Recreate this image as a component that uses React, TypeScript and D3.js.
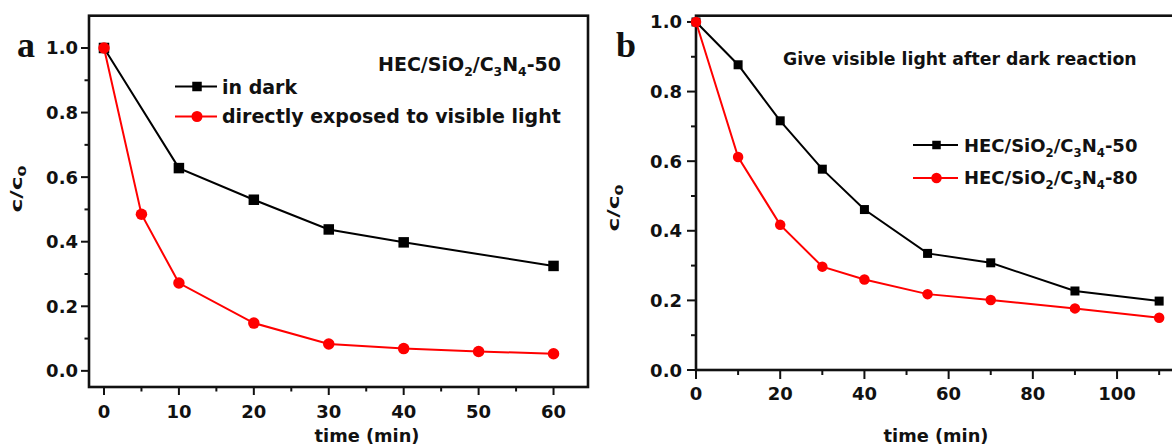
import React from 'react';
import * as d3 from 'd3';

// ---------- data ----------
const timeDarkA = [0, 10, 20, 30, 40, 60];
const inDarkA = [1.0, 0.628, 0.53, 0.438, 0.398, 0.325];
const timeLightA = [0, 5, 10, 20, 30, 40, 50, 60];
const lightA = [1.0, 0.485, 0.272, 0.148, 0.083, 0.069, 0.06, 0.053];

const timeB = [0, 10, 20, 30, 40, 55, 70, 90, 110];
const hec50B = [1.0, 0.877, 0.716, 0.577, 0.461, 0.335, 0.308, 0.227, 0.198];
const hec80B = [1.0, 0.612, 0.417, 0.297, 0.26, 0.218, 0.201, 0.177, 0.15];

const xTicksA = [0, 10, 20, 30, 40, 50, 60];
const xMinorA = [5, 15, 25, 35, 45, 55];
const xTicksB = [0, 20, 40, 60, 80, 100];
const xMinorB = [10, 30, 50, 70, 90, 110];
const yTicks = [0, 0.2, 0.4, 0.6, 0.8, 1.0];
const yMinor = [0.1, 0.3, 0.5, 0.7, 0.9];

const FONT = '"DejaVu Sans", "Liberation Sans", Arial, sans-serif';
const RED = '#ff0000';

type Pt = [number, number];

function zip(xs: number[], ys: number[]): Pt[] {
  return xs.map((x, i) => [x, ys[i]] as Pt);
}

function Chem({ x, y, size, suffix, anchor = 'start' }: any) {
  const sub = size * 0.65;
  return (
    <text x={x} y={y} fontFamily={FONT} fontWeight="bold" fontSize={size} textAnchor={anchor} fill="#111">
      HEC/SiO<tspan fontSize={sub} dy={5}>2</tspan>
      <tspan dy={-5}>/C</tspan>
      <tspan fontSize={sub} dy={5}>3</tspan>
      <tspan dy={-5}>N</tspan>
      <tspan fontSize={sub} dy={5}>4</tspan>
      <tspan dy={-5}>{suffix}</tspan>
    </text>
  );
}

function Marker({ kind, x, y, size, color }: any) {
  if (kind === 'square') {
    return <rect x={x - size / 2} y={y - size / 2} width={size} height={size} fill={color} />;
  }
  return <circle cx={x} cy={y} r={size / 2} fill={color} />;
}

function Series({ pts, xs, ys, color, kind, size }: any) {
  const line = d3
    .line<Pt>()
    .x((d) => xs(d[0]))
    .y((d) => ys(d[1]));
  return (
    <g>
      <path d={line(pts) || ''} fill="none" stroke={color} strokeWidth={2} />
      {pts.map((d: Pt, i: number) => (
        <Marker key={i} kind={kind} x={xs(d[0])} y={ys(d[1])} size={size} color={color} />
      ))}
    </g>
  );
}

function Axes({ xs, ys, xTicks, xMinor, majorLen, minorLen, xLabelY, yLabelEnd }: any) {
  const [x0, x1] = xs.range();
  const [y0, y1] = ys.range(); // y0 bottom, y1 top
  return (
    <g>
      {/* frame */}
      <rect x={x0} y={y1} width={x1 - x0} height={y0 - y1} fill="none" stroke="#111" strokeWidth={2.6} />
      {/* x ticks */}
      {xTicks.map((t: number) => (
        <g key={'xt' + t}>
          <line x1={xs(t)} x2={xs(t)} y1={y0} y2={y0 + majorLen} stroke="#111" strokeWidth={2} />
          <text x={xs(t)} y={xLabelY} textAnchor="middle" fontFamily={FONT} fontWeight="bold" fontSize={18} fill="#111">
            {t}
          </text>
        </g>
      ))}
      {xMinor.map((t: number) => (
        <line key={'xm' + t} x1={xs(t)} x2={xs(t)} y1={y0} y2={y0 + minorLen} stroke="#111" strokeWidth={2} />
      ))}
      {/* y ticks */}
      {yTicks.map((t: number) => (
        <g key={'yt' + t}>
          <line x1={x0} x2={x0 - majorLen} y1={ys(t)} y2={ys(t)} stroke="#111" strokeWidth={2} />
          <text x={yLabelEnd} y={ys(t) + 6.5} textAnchor="end" fontFamily={FONT} fontWeight="bold" fontSize={18} fill="#111">
            {t.toFixed(1)}
          </text>
        </g>
      ))}
      {yMinor.map((t: number) => (
        <line key={'ym' + t} x1={x0} x2={x0 - minorLen} y1={ys(t)} y2={ys(t)} stroke="#111" strokeWidth={2} />
      ))}
    </g>
  );
}

function YLabel({ x, y }: any) {
  return (
    <g transform={`translate(${x},${y}) rotate(-90) scale(1.45,1)`}>
      <text x={0} y={0} textAnchor="middle" fontFamily={FONT} fontWeight="bold" fontSize={16} fill="#111">
        c/c<tspan fontSize={11} dy={4}>0</tspan>
      </text>
    </g>
  );
}

function XLabel({ x, y }: any) {
  return (
    <text x={x} y={y} textAnchor="middle" fontFamily={FONT} fontWeight="bold" fontSize={17.8} fill="#111">
      time (min)
    </text>
  );
}

export default function App() {
  // Panel a
  const xa = d3.scaleLinear().domain([-2, 64.6]).range([89, 588]);
  const ya = d3.scaleLinear().domain([-0.05, 1.1]).range([387, 15.7]);
  // Panel b
  const xb = d3.scaleLinear().domain([0, 114]).range([696, 1176]);
  const yb = d3.scaleLinear().domain([0, 1.018]).range([370, 15.7]);

  return (
    <svg
      width={1172}
      height={447}
      viewBox="0 0 1172 447"
      style={{ position: 'absolute', left: 0, top: 0, background: '#fff' }}
    >
      <rect x={0} y={0} width={1172} height={447} fill="#fff" />

      {/* ---------- panel a ---------- */}
      <Axes xs={xa} ys={ya} xTicks={xTicksA} xMinor={xMinorA} majorLen={8} minorLen={4.5} xLabelY={418} yLabelEnd={78} />
      <Series pts={zip(timeDarkA, inDarkA)} xs={xa} ys={ya} color="#000" kind="square" size={10.5} />
      <Series pts={zip(timeLightA, lightA)} xs={xa} ys={ya} color={RED} kind="circle" size={11.5} />
      <text x={17} y={57} fontFamily='"Liberation Serif", "DejaVu Serif", serif' fontWeight="bold" fontSize={36} fill="#111">
        a
      </text>
      <Chem x={378} y={71} size={19} suffix="-50" />
      {/* legend a */}
      <line x1={175} x2={217} y1={86.5} y2={86.5} stroke="#000" strokeWidth={2} />
      <Marker kind="square" x={197} y={86.5} size={9.5} color="#000" />
      <text x={222} y={93.5} fontFamily={FONT} fontWeight="bold" fontSize={19} fill="#111">in dark</text>
      <line x1={175} x2={217} y1={116.5} y2={116.5} stroke={RED} strokeWidth={2} />
      <Marker kind="circle" x={197} y={116.5} size={11} color={RED} />
      <text x={222} y={123} fontFamily={FONT} fontWeight="bold" fontSize={19} fill="#111">directly exposed to visible light</text>
      <YLabel x={22} y={189} />
      <XLabel x={367} y={442} />

      {/* ---------- panel b ---------- */}
      <Axes xs={xb} ys={yb} xTicks={xTicksB} xMinor={xMinorB} majorLen={9} minorLen={5} xLabelY={400} yLabelEnd={682} />
      <Series pts={zip(timeB, hec50B)} xs={xb} ys={yb} color="#000" kind="square" size={9} />
      <Series pts={zip(timeB, hec80B)} xs={xb} ys={yb} color={RED} kind="circle" size={10.5} />
      <text x={616} y={57} fontFamily='"Liberation Serif", "DejaVu Serif", serif' fontWeight="bold" fontSize={36} fill="#111">
        b
      </text>
      <text x={783} y={65} fontFamily={FONT} fontWeight="bold" fontSize={17.3} fill="#111">
        Give visible light after dark reaction
      </text>
      {/* legend b */}
      <line x1={913} x2={958} y1={145} y2={145} stroke="#000" strokeWidth={2} />
      <Marker kind="square" x={936.5} y={145} size={8.5} color="#000" />
      <Chem x={964} y={151.5} size={18} suffix="-50" />
      <line x1={913} x2={958} y1={178} y2={178} stroke={RED} strokeWidth={2} />
      <Marker kind="circle" x={936.5} y={178} size={10.5} color={RED} />
      <Chem x={964} y={184} size={18} suffix="-80" />
      <YLabel x={619} y={208} />
      <XLabel x={936} y={442} />
    </svg>
  );
}
